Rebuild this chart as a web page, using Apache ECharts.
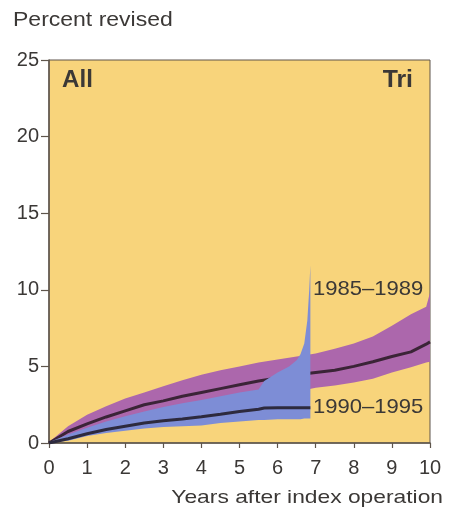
<!DOCTYPE html>
<html>
<head>
<meta charset="utf-8">
<script src="https://cdn.jsdelivr.net/npm/echarts@6/dist/echarts.min.js"></script>
<style>
  html, body { margin: 0; padding: 0; background: #ffffff; }
  #chart { width: 451px; height: 516px; }
</style>
</head>
<body>
<div id="chart"></div>
<script>
// Cumulative revision rates (percent) by years after index operation

// Cohort 1985–1989
const yearsA = [0, 0.5, 1, 1.5, 2, 2.5, 3, 3.5, 4, 4.5, 5, 5.5, 6, 6.5, 7, 7.5, 8, 8.5, 9, 9.5, 9.9, 10];
const lineA  = [0, 0.75, 1.25, 1.7, 2.1, 2.5, 2.75, 3.05, 3.3, 3.55, 3.8, 4.05, 4.25, 4.45, 4.6, 4.75, 5.0, 5.3, 5.65, 5.95, 6.45, 6.6];
const upperA = [0.05, 1.1, 1.85, 2.4, 2.9, 3.3, 3.7, 4.1, 4.45, 4.75, 5.0, 5.25, 5.45, 5.65, 5.85, 6.15, 6.5, 6.95, 7.65, 8.4, 8.9, 9.8];
const lowerA = [0, 0.4, 0.75, 1.05, 1.35, 1.6, 1.85, 2.1, 2.35, 2.55, 2.75, 2.95, 3.15, 3.35, 3.6, 3.75, 3.95, 4.2, 4.6, 4.95, 5.25, 5.3];

// Cohort 1990–1995
const yearsB = [0, 0.5, 1, 1.5, 2, 2.5, 3, 3.5, 4, 4.5, 5, 5.5, 5.65, 6, 6.3, 6.5, 6.6, 6.7, 6.78, 6.83, 6.86];
const lineB  = [0, 0.28, 0.6, 0.88, 1.1, 1.3, 1.45, 1.57, 1.72, 1.88, 2.05, 2.2, 2.28, 2.3, 2.3, 2.3, 2.3, 2.3, 2.3, 2.3, 2.3];
const upperB = [0.05, 0.55, 1.0, 1.4, 1.75, 2.05, 2.35, 2.6, 2.8, 3.05, 3.3, 3.5, 4.05, 4.6, 5.0, 5.4, 5.8, 6.5, 8.0, 10.0, 11.6];
const lowerB = [0, 0.15, 0.45, 0.65, 0.8, 0.95, 1.05, 1.1, 1.15, 1.3, 1.4, 1.5, 1.5, 1.55, 1.55, 1.55, 1.55, 1.6, 1.6, 1.6, 1.6];

// Axis ticks
const xTicks = [0, 1, 2, 3, 4, 5, 6, 7, 8, 9, 10];
const yTicks = [0, 5, 10, 15, 20, 25];

const cohortNames = ['1985–1989', '1990–1995'];

const COLORS = {
  plotBg: '#F8D47B',
  bandA: '#AC67AC',
  bandB: '#7D8DD6',
  lineA: '#3b2437',
  lineB: '#2d2a3e',
  axis: '#5e554c',
  text: '#3b3836'
};
const FONT = '"Liberation Sans", Arial, Helvetica, sans-serif';

function pairs(xs, ys) { return xs.map((x, i) => [x, ys[i]]); }

// Confidence band drawn as a closed polygon between lower and upper bounds
function bandSeries(xs, lo, hi, color, z) {
  return {
    type: 'custom',
    coordinateSystem: 'cartesian2d',
    silent: true,
    z: z,
    data: [[xs[0], lo[0]]],
    renderItem: function (params, api) {
      const top = xs.map((x, i) => api.coord([x, hi[i]]));
      const bottom = xs.map((x, i) => api.coord([x, lo[i]])).reverse();
      return {
        type: 'polygon',
        shape: { points: top.concat(bottom) },
        style: { fill: color, stroke: null }
      };
    }
  };
}

function lineSeries(name, xs, ys, color, z) {
  return {
    name: name,
    type: 'line',
    z: z,
    data: pairs(xs, ys),
    showSymbol: false,
    silent: true,
    lineStyle: { color: color, width: 3 },
    animation: false
  };
}

const chart = echarts.init(document.getElementById('chart'), null, { renderer: 'canvas' });

chart.setOption({
  animation: false,
  backgroundColor: '#ffffff',
  grid: {
    left: 49, right: 21, top: 60, bottom: 73,
    show: true,
    backgroundColor: COLORS.plotBg,
    borderColor: COLORS.axis,
    borderWidth: 1
  },
  xAxis: {
    type: 'value',
    min: xTicks[0],
    max: xTicks[xTicks.length - 1],
    interval: 1,
    axisLine: { show: true, onZero: false, lineStyle: { color: COLORS.axis, width: 1.5 } },
    axisTick: { show: true, length: 5, lineStyle: { color: COLORS.axis, width: 1.2 } },
    splitLine: { show: false },
    axisLabel: {
      margin: 15,
      color: COLORS.text,
      fontFamily: FONT,
      fontSize: 20,
      formatter: v => xTicks.includes(v) ? String(v) : ''
    }
  },
  yAxis: {
    type: 'value',
    min: yTicks[0],
    max: yTicks[yTicks.length - 1],
    interval: 5,
    axisLine: { show: true, lineStyle: { color: COLORS.axis, width: 1.5 } },
    axisTick: { show: true, length: 8, lineStyle: { color: COLORS.axis, width: 1.2 } },
    splitLine: { show: false },
    axisLabel: {
      margin: 10,
      color: COLORS.text,
      fontFamily: FONT,
      fontSize: 20,
      formatter: v => yTicks.includes(v) ? String(v) : ''
    }
  },
  series: [
    bandSeries(yearsA, lowerA, upperA, COLORS.bandA, 1),
    lineSeries(cohortNames[0], yearsA, lineA, COLORS.lineA, 2),
    bandSeries(yearsB, lowerB, upperB, COLORS.bandB, 3),
    lineSeries(cohortNames[1], yearsB, lineB, COLORS.lineB, 4)
  ],
  graphic: [
    {
      type: 'text', x: 13, y: 20, scaleX: 1.15, silent: true,
      style: { text: 'Percent revised', font: '20px ' + FONT, fill: COLORS.text, textAlign: 'left', textVerticalAlign: 'middle' }
    },
    {
      type: 'text', x: 443, y: 498, scaleX: 1.2, silent: true,
      style: { text: 'Years after index operation', font: '19px ' + FONT, fill: COLORS.text, textAlign: 'right', textVerticalAlign: 'middle' }
    },
    {
      type: 'text', x: 62, y: 81, scaleX: 1.05, silent: true,
      style: { text: 'All', font: 'bold 23px ' + FONT, fill: COLORS.text, textAlign: 'left', textVerticalAlign: 'middle' }
    },
    {
      type: 'text', x: 413, y: 81, scaleX: 1.08, silent: true,
      style: { text: 'Tri', font: 'bold 23px ' + FONT, fill: COLORS.text, textAlign: 'right', textVerticalAlign: 'middle' }
    },
    {
      type: 'text', x: 313, y: 289, scaleX: 1.05, silent: true,
      style: { text: cohortNames[0], font: '21px ' + FONT, fill: COLORS.text, textAlign: 'left', textVerticalAlign: 'middle' }
    },
    {
      type: 'text', x: 313, y: 407, scaleX: 1.05, silent: true,
      style: { text: cohortNames[1], font: '21px ' + FONT, fill: COLORS.text, textAlign: 'left', textVerticalAlign: 'middle' }
    }
  ]
});
</script>
</body>
</html>
